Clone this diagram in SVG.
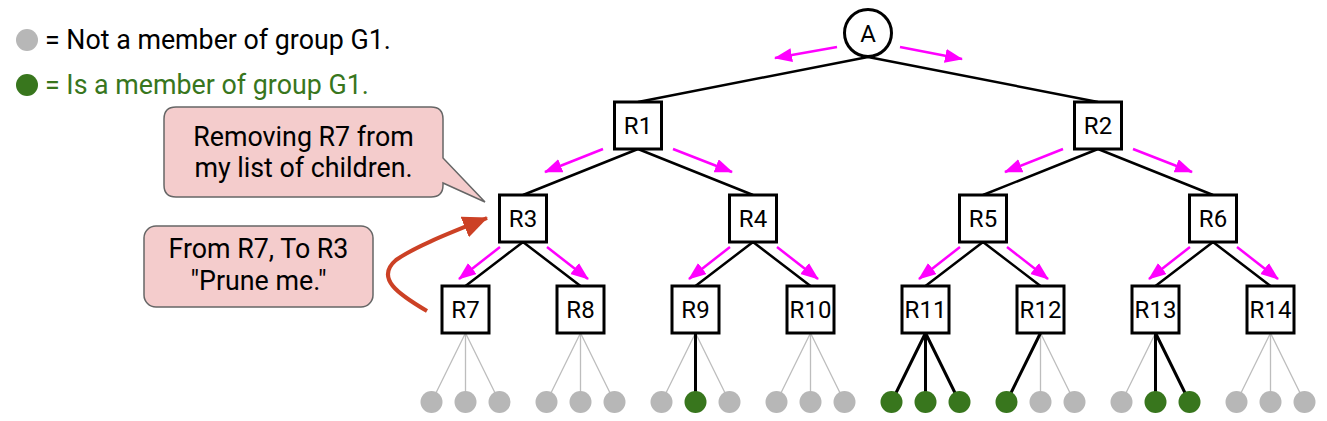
<svg xmlns="http://www.w3.org/2000/svg" width="1327" height="421" viewBox="0 0 1327 421">
<style>
.t{font-family:Roboto,"Liberation Sans",sans-serif;fill:#000}
.nl{font-size:24px;text-anchor:middle}
.box{fill:#fff;stroke:#000;stroke-width:3}
.e{stroke:#000;stroke-width:2.5;fill:none}
.eg{stroke:#bdbdbd;stroke-width:1.3;fill:none}
.eb{stroke:#000;stroke-width:3;fill:none}
.mg{stroke:#ff00ff;stroke-width:2.5;fill:none;marker-end:url(#mh)}
.lg{fill:#b7b7b7}
.lb{fill:#38761d}
.co{fill:#f4cccc;stroke:#666;stroke-width:1.5}
.ct{font-size:26.8px;text-anchor:middle}
.lt{font-size:26.8px}
</style>
<defs>
<marker id="mh" markerUnits="userSpaceOnUse" markerWidth="20" markerHeight="16" refX="17" refY="7" orient="auto">
<path d="M0,0 L18,7 L0,14 Z" fill="#ff00ff"/>
</marker>
<marker id="rh" markerUnits="userSpaceOnUse" markerWidth="28" markerHeight="24" refX="24" refY="11" orient="auto">
<path d="M0,0 L25,11 L0,22 Z" fill="#cc4125"/>
</marker>
</defs>

<g id="legend">
<circle cx="27" cy="40" r="11" class="lg"/>
<text x="45" y="49" class="t lt">= Not a member of group G1.</text>
<circle cx="27" cy="85" r="11" class="lb"/>
<text x="45" y="94" class="t lt" style="fill:#38761d">= Is a member of group G1.</text>
</g>

<g id="connectors">
<path class="e" d="M868,57 L638,102 M868,57 L1098,102"/>
<path class="e" d="M638,149 L523,195 M638,149 L753,195 M1098,149 L983,195 M1098,149 L1213,195"/>
<path class="e" d="M523,242 L465.5,286 M523,242 L580.5,286 M753,242 L695.5,286 M753,242 L810.5,286 M983,242 L925.5,286 M983,242 L1040.5,286 M1213,242 L1155.5,286 M1213,242 L1270.5,286"/>
<path class="eg" d="M465.5,333 L431.5,402 M465.5,333 L465.5,402 M465.5,333 L499.5,402
M580.5,333 L546.5,402 M580.5,333 L580.5,402 M580.5,333 L614.5,402
M695.5,333 L661.5,402 M695.5,333 L729.5,402
M810.5,333 L776.5,402 M810.5,333 L810.5,402 M810.5,333 L844.5,402
M1040.5,333 L1040.5,402 M1040.5,333 L1074.5,402
M1155.5,333 L1121.5,402
M1270.5,333 L1236.5,402 M1270.5,333 L1270.5,402 M1270.5,333 L1304.5,402"/>
<path class="eb" d="M695.5,333 L695.5,402
M925.5,333 L891.5,402 M925.5,333 L925.5,402 M925.5,333 L959.5,402
M1040.5,333 L1006.5,402
M1155.5,333 L1155.5,402 M1155.5,333 L1189.5,402"/>
<path class="mg" d="M837,47 L775,58"/>
<path class="mg" d="M900,47 L962,59"/>
<path class="mg" d="M603,149 L545,172"/>
<path class="mg" d="M673,149 L732,172"/>
<path class="mg" d="M1063,149 L1005,172"/>
<path class="mg" d="M1133,149 L1192,172"/>
<path class="mg" d="M500,247 L459,279"/>
<path class="mg" d="M547,247 L588,279"/>
<path class="mg" d="M730,247 L689,279"/>
<path class="mg" d="M777,247 L818,279"/>
<path class="mg" d="M960,247 L919,279"/>
<path class="mg" d="M1007,247 L1048,279"/>
<path class="mg" d="M1190,247 L1149,279"/>
<path class="mg" d="M1237,247 L1278,279"/>
<path d="M427,311 C398,294 375,278 396,260 C416,246 450,233 487,218" fill="none" stroke="#cc4125" stroke-width="4" marker-end="url(#rh)"/>
</g>

<g id="leaves">
<circle cx="431.5" cy="402" r="11" class="lg"/><circle cx="465.5" cy="402" r="11" class="lg"/><circle cx="499.5" cy="402" r="11" class="lg"/>
<circle cx="546.5" cy="402" r="11" class="lg"/><circle cx="580.5" cy="402" r="11" class="lg"/><circle cx="614.5" cy="402" r="11" class="lg"/>
<circle cx="661.5" cy="402" r="11" class="lg"/><circle cx="695.5" cy="402" r="11" class="lb"/><circle cx="729.5" cy="402" r="11" class="lg"/>
<circle cx="776.5" cy="402" r="11" class="lg"/><circle cx="810.5" cy="402" r="11" class="lg"/><circle cx="844.5" cy="402" r="11" class="lg"/>
<circle cx="891.5" cy="402" r="11" class="lb"/><circle cx="925.5" cy="402" r="11" class="lb"/><circle cx="959.5" cy="402" r="11" class="lb"/>
<circle cx="1006.5" cy="402" r="11" class="lb"/><circle cx="1040.5" cy="402" r="11" class="lg"/><circle cx="1074.5" cy="402" r="11" class="lg"/>
<circle cx="1121.5" cy="402" r="11" class="lg"/><circle cx="1155.5" cy="402" r="11" class="lb"/><circle cx="1189.5" cy="402" r="11" class="lb"/>
<circle cx="1236.5" cy="402" r="11" class="lg"/><circle cx="1270.5" cy="402" r="11" class="lg"/><circle cx="1304.5" cy="402" r="11" class="lg"/>
</g>

<g id="nA"><circle cx="868" cy="33" r="23.5" fill="#fff" stroke="#000" stroke-width="3"/><text x="868" y="41.5" class="t nl">A</text></g>
<g id="nR1"><rect x="614.5" y="102" width="47" height="47" class="box"/><text x="638" y="134" class="t nl">R1</text></g>
<g id="nR2"><rect x="1074.5" y="102" width="47" height="47" class="box"/><text x="1098" y="134" class="t nl">R2</text></g>
<g id="nR3"><rect x="499.5" y="195" width="47" height="47" class="box"/><text x="523" y="227" class="t nl">R3</text></g>
<g id="nR4"><rect x="729.5" y="195" width="47" height="47" class="box"/><text x="753" y="227" class="t nl">R4</text></g>
<g id="nR5"><rect x="959.5" y="195" width="47" height="47" class="box"/><text x="983" y="227" class="t nl">R5</text></g>
<g id="nR6"><rect x="1189.5" y="195" width="47" height="47" class="box"/><text x="1213" y="227" class="t nl">R6</text></g>
<g id="nR7"><rect x="442" y="286" width="47" height="47" class="box"/><text x="465.5" y="318" class="t nl">R7</text></g>
<g id="nR8"><rect x="557" y="286" width="47" height="47" class="box"/><text x="580.5" y="318" class="t nl">R8</text></g>
<g id="nR9"><rect x="672" y="286" width="47" height="47" class="box"/><text x="695.5" y="318" class="t nl">R9</text></g>
<g id="nR10"><rect x="787" y="286" width="47" height="47" class="box"/><text x="810.5" y="318" class="t nl">R10</text></g>
<g id="nR11"><rect x="902" y="286" width="47" height="47" class="box"/><text x="925.5" y="318" class="t nl">R11</text></g>
<g id="nR12"><rect x="1017" y="286" width="47" height="47" class="box"/><text x="1040.5" y="318" class="t nl">R12</text></g>
<g id="nR13"><rect x="1132" y="286" width="47" height="47" class="box"/><text x="1155.5" y="318" class="t nl">R13</text></g>
<g id="nR14"><rect x="1247" y="286" width="47" height="47" class="box"/><text x="1270.5" y="318" class="t nl">R14</text></g>

<g id="callout1">
<path class="co" d="M176,107 H431 Q443,107 443,119 V158 L485,202 L443,183 V185 Q443,197 431,197 H176 Q164,197 164,185 V119 Q164,107 176,107 Z"/>
<text x="303.5" y="146" class="t ct">Removing R7 from</text>
<text x="303.5" y="177" class="t ct">my list of children.</text>
</g>
<g id="callout2">
<rect x="144" y="226" width="229" height="81" rx="12" class="co"/>
<text x="258.5" y="258" class="t ct">From R7, To R3</text>
<text x="258.5" y="290" class="t ct">"Prune me."</text>
</g>
</svg>
